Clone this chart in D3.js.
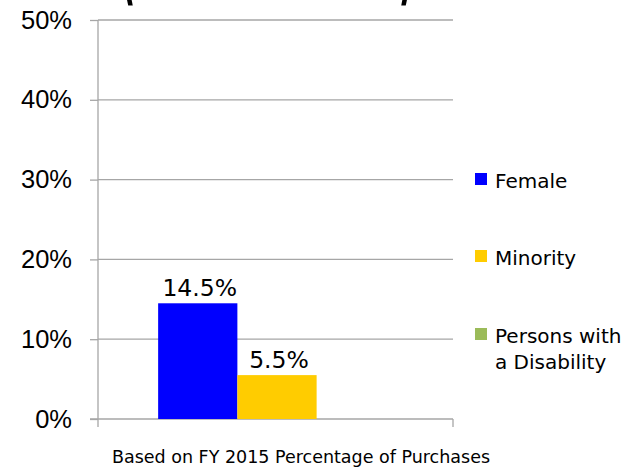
<!DOCTYPE html>
<html>
<head>
<meta charset="utf-8">
<script src="https://cdnjs.cloudflare.com/ajax/libs/d3/7.8.5/d3.min.js"></script>
<style>
    body { margin: 0; background: #fff; }
    svg { display: block; font-family: Tahoma, 'DejaVu Sans', sans-serif; }
</style>
</head>
<body>
<div id="chart"></div>
<script>
var categories = ['Based on FY 2015 Percentage of Purchases'];
var seriesNames = ['Female', 'Minority', 'Persons with a Disability'];
var seriesValues = [0.145, 0.055, 0];
var seriesLabels = ['14.5%', '5.5%', ''];
var seriesColors = ['#0000FF', '#FFCC00', '#9BBB59'];
var yTicks = [0, 0.1, 0.2, 0.3, 0.4, 0.5];

var fullwidth = 627;
var fullheight = 469;
var margin = { top: 20, right: 174, bottom: 50, left: 98 };
var width = fullwidth - margin.left - margin.right;
var height = fullheight - margin.top - margin.bottom;

var svg = d3.select('#chart')
    .append('svg')
    .attr('width', fullwidth)
    .attr('height', fullheight);

// title sits above the picture, only the bottom of the brackets shows
svg.append('text')
    .attr('x', 121)
    .attr('y', -5)
    .attr('textLength', 292)
    .attr('lengthAdjust', 'spacingAndGlyphs')
    .style('font-size', '76px')
    .style('font-weight', 'bold')
    .text('(Small Business)');

var g = svg.append('g')
    .attr('transform', 'translate(' + margin.left + ',' + margin.top + ')');

var y = d3.scaleLinear().domain([0, 0.5]).range([height, 0]);
var x0 = d3.scaleBand().domain(categories).range([0, width]).paddingInner(0).paddingOuter(0);
var x1 = d3.scaleBand().domain(seriesNames)
    .range([1.5, x0.bandwidth() + 1.5])
    .paddingInner(0)
    .paddingOuter(0.74);

// gridlines
g.selectAll('line.grid')
    .data(yTicks.filter(function(d) { return d > 0; }))
    .enter().append('line')
    .attr('class', 'grid')
    .attr('x1', 0).attr('x2', width)
    .attr('y1', function(d) { return y(d); })
    .attr('y2', function(d) { return y(d); })
    .attr('stroke', '#a6a6a6')
    .attr('stroke-width', 1.3);

// y axis
var yAxis = d3.axisLeft(y)
    .tickValues(yTicks)
    .tickFormat(d3.format('.0%'))
    .tickSize(8)
    .tickPadding(18);
var ya = g.append('g').call(yAxis);
ya.select('.domain').remove();
ya.selectAll('.tick line').attr('stroke', '#a6a6a6').attr('stroke-width', 1.3);
ya.selectAll('.tick text')
    .style('font-size', '25.5px')
    .attr('fill', '#000');

g.append('line')
    .attr('x1', 0).attr('x2', 0)
    .attr('y1', 0).attr('y2', height + 8)
    .attr('stroke', '#a6a6a6').attr('stroke-width', 1.3);

// x axis
g.append('line')
    .attr('x1', -8).attr('x2', width)
    .attr('y1', height).attr('y2', height)
    .attr('stroke', '#a6a6a6').attr('stroke-width', 1.3);
g.append('line')
    .attr('x1', width).attr('x2', width)
    .attr('y1', height).attr('y2', height + 8)
    .attr('stroke', '#a6a6a6').attr('stroke-width', 1.3);

g.selectAll('text.cat')
    .data(categories)
    .enter().append('text')
    .attr('class', 'cat')
    .attr('x', 203)
    .attr('y', height + 44)
    .attr('text-anchor', 'middle')
    .style('font-size', '17.5px')
    .text(function(d) { return d; });

// bars
var data = seriesNames.map(function(s, i) {
    return { cat: categories[0], name: s, value: seriesValues[i], label: seriesLabels[i], color: seriesColors[i] };
});

g.selectAll('rect.bar')
    .data(data)
    .enter().append('rect')
    .attr('class', 'bar')
    .attr('x', function(d) { return x0(d.cat) + x1(d.name); })
    .attr('y', function(d) { return y(d.value); })
    .attr('width', x1.bandwidth())
    .attr('height', function(d) { return height - y(d.value); })
    .attr('fill', function(d) { return d.color; });

g.selectAll('text.lbl')
    .data(data.filter(function(d) { return d.label; }))
    .enter().append('text')
    .attr('class', 'lbl')
    .attr('x', function(d) { return x0(d.cat) + x1(d.name) + x1.bandwidth() / 2 + 2; })
    .attr('y', function(d) { return y(d.value) - 7; })
    .attr('text-anchor', 'middle')
    .style('font-size', '23.5px')
    .text(function(d) { return d.label; });

// legend
var legendY = [179, 256, 334];
var legend = svg.selectAll('g.legend')
    .data(data)
    .enter().append('g')
    .attr('class', 'legend')
    .attr('transform', function(d, i) { return 'translate(475,' + legendY[i] + ')'; });

legend.append('rect')
    .attr('x', 0).attr('y', -6)
    .attr('width', 12).attr('height', 12)
    .attr('fill', function(d) { return d.color; });

legend.append('text')
    .attr('x', 20)
    .attr('y', 9)
    .style('font-size', '20px')
    .each(function(d) {
        var words = d.name === 'Persons with a Disability' ? ['Persons with', 'a Disability'] : [d.name];
        var t = d3.select(this);
        words.forEach(function(w, k) {
            t.append('tspan').attr('x', 20).attr('dy', k === 0 ? 0 : 26).text(w);
        });
    });
</script>
</body>
</html>
